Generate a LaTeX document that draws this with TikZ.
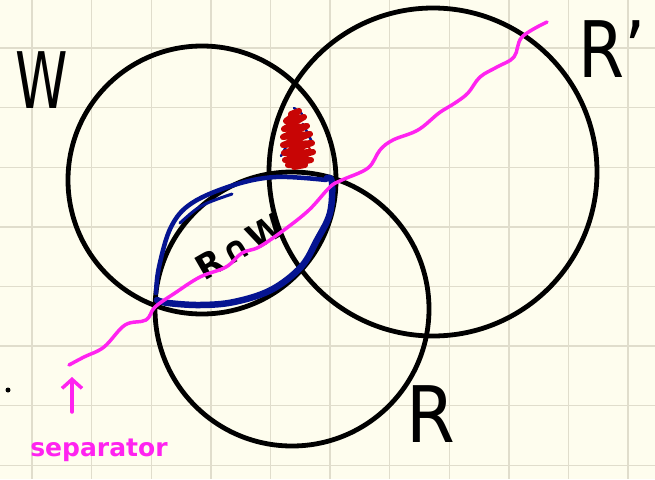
\documentclass[tikz,border=0pt]{standalone}
\usepackage{fontspec}
\setmainfont{DejaVu Sans}
\usetikzlibrary{arrows.meta,positioning}
\definecolor{paper}{RGB}{254,253,238}
\definecolor{gridline}{RGB}{224,221,204}
\definecolor{ink}{RGB}{0,0,0}
\definecolor{penblue}{RGB}{5,20,145}
\definecolor{penred}{RGB}{200,5,5}
\definecolor{penpink}{RGB}{255,35,240}
\tikzset{
  gridrule/.style={line width=1.4pt,draw=gridline},
  setline/.style={line width=4.8pt,draw=ink},
  blueline/.style={line width=5pt,draw=penblue,line cap=round,line join=round},
  sepline/.style={line width=3.5pt,draw=penpink,line cap=round,line join=round},
  separrow/.style={-{Straight Barb[length=9pt,width=20pt]},line width=3.5pt,draw=penpink,line cap=round},
  scribble/.style={line width=6pt,draw=penred,line cap=round,line join=round},
  setname/.style={font=\fontsize{78}{78}\selectfont,text=ink,inner sep=0pt},
  handnote/.style={font=\bfseries\fontsize{34}{34}\selectfont,text=ink,inner sep=0pt},
  pinknote/.style={font=\bfseries\fontsize{25}{25}\selectfont,text=penpink,inner sep=0pt}
}
\begin{document}
\begin{tikzpicture}[x=1pt,y=-1pt]
  \useasboundingbox (0,0) rectangle (655,479);
  \fill[paper] (0,0) rectangle (655,479);

  % squared paper
  \foreach \gx in {0,...,10}
    \draw[gridrule] ({32+59.6*\gx},0) -- ({32+59.6*\gx},479);
  \foreach \gy in {0,...,7}
    \draw[gridrule] (0,{48+59.6*\gy}) -- (655,{48+59.6*\gy});

  % the three sets
  \coordinate (Wc) at (202,180);
  \coordinate (Rpc) at (433,172);
  \coordinate (Rc) at (292,309);
  \draw[setline] (Wc) circle[radius=134pt];
  \draw[setline] (Rpc) circle[radius=164pt];
  \draw[setline] (Rc) circle[radius=137pt];

  % R cap W outlined in blue
  \draw[blueline,line width=6.5pt] plot[smooth,tension=0.6] coordinates {
      (157,300) (168,303) (200,305) (234,302) (271,290)
      (301,267) (317,240) (330,213) (332,182) (327,178)
    };
  \draw[blueline,line width=4.5pt] plot[smooth,tension=0.6] coordinates {
      (156,293) (159,267) (171,227) (192,203) (234,185) (276,177) (326,180)
    };
  \draw[blueline,line width=3pt] (180,223) .. controls (200,205) .. (232,194);

  % scribbled region
  \draw[penblue,line width=2.5pt,line cap=round] (281,156) -- (291,138);
  \draw[penblue,line width=2.5pt,line cap=round] (303,124) -- (313,144);
  \draw[penblue,line width=2.5pt,line cap=round] (293,166) -- (313,150);
  \draw[penblue,line width=2.5pt,line cap=round] (294,108) -- (302,114);
  \draw[scribble] plot coordinates {
      (291,114) (299,111) (286,121) (304,117) (284,129) (307,126)
      (283,137) (310,134) (283,145) (312,143) (284,153) (313,152)
      (285,160) (311,160) (288,165) (305,165) (294,167)
    };
  \draw[penred,line width=2pt,line cap=round] (300,161) .. controls (314,152) .. (304,143);

  % labels
  \node[setname,xscale=0.68] (wname) at (42,80) {W};
  \node[setname,xscale=0.85] (rpname) at (612,49) {R'};
  \node[setname,xscale=0.9] (rname) at (431,414) {R};
  \node[handnote,rotate=30] (rwname) at (240,246) {R\hspace{3pt}∩\hspace{3pt}W};
  \fill[ink] (8,390) circle[radius=2.5pt];

  % separator
  \draw[sepline] plot[smooth,tension=0.6] coordinates {
      (69,365) (84,357) (104,347) (125,325) (146,320) (155,307)
      (175,293) (200,277) (226,267) (242,253) (259,247) (284,230)
      (309,210) (330,187) (342,180) (368,168) (380,150) (393,140)
      (418,130) (439,113) (455,103) (468,93) (480,77) (497,67)
      (514,57) (522,37) (547,22)
    };
  \node[pinknote] (sepname) at (99,450) {separator};
  \coordinate (septail) at (72,412);
  \coordinate (septip) at (72,377);
  \draw[separrow] (septail) -- (septip);
\end{tikzpicture}
\end{document}
